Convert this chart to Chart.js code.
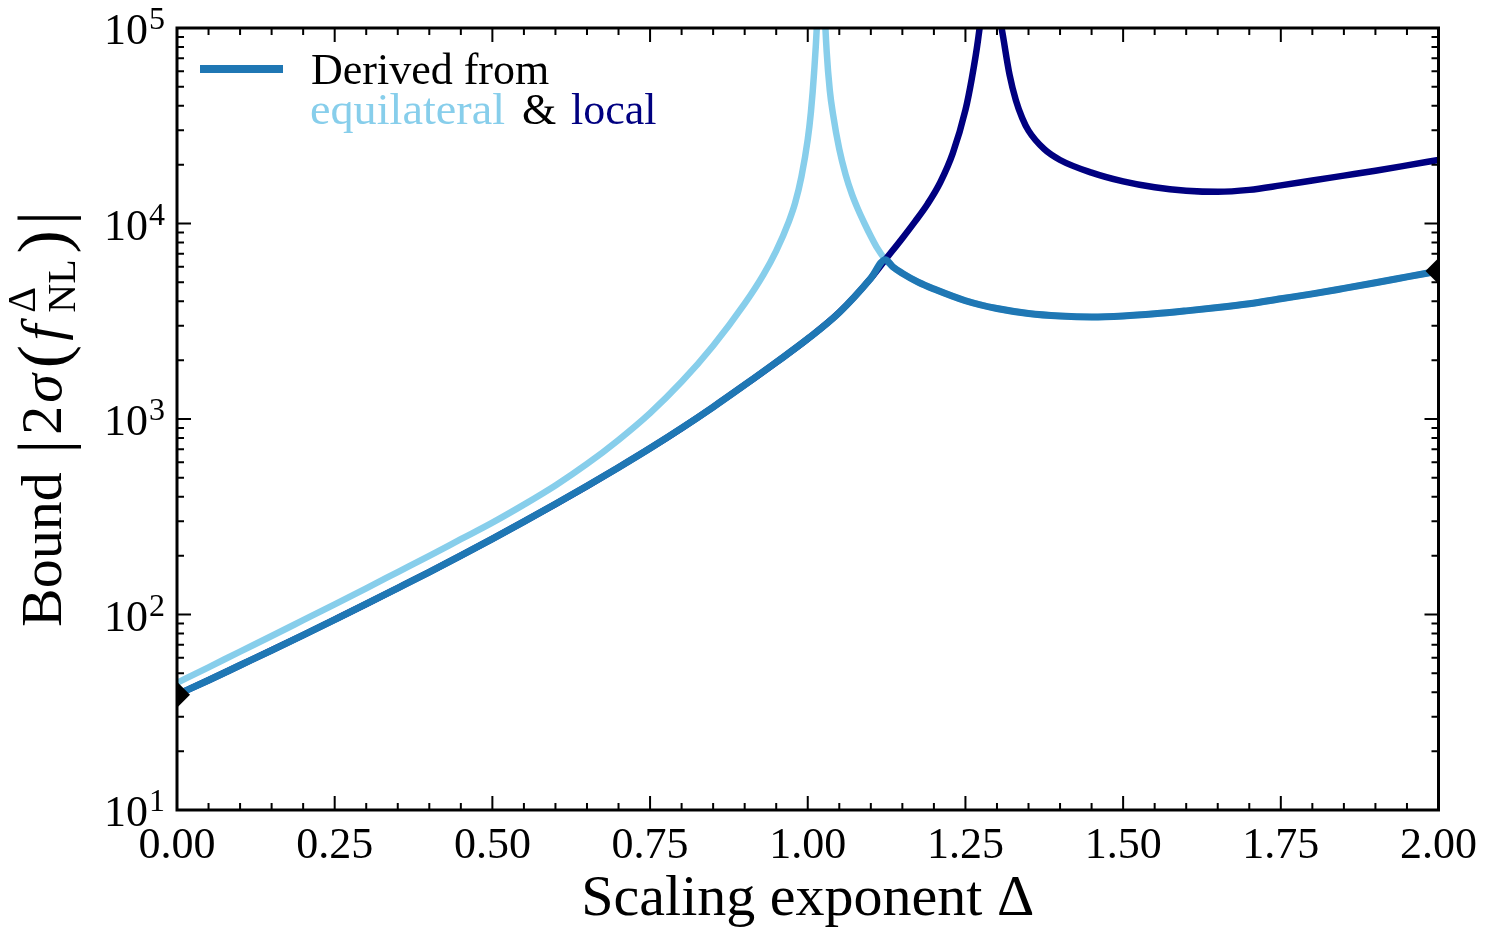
<!DOCTYPE html>
<html>
<head>
<meta charset="utf-8">
<script src="https://cdn.jsdelivr.net/npm/chart.js@4.4.0/dist/chart.umd.min.js"></script>
<style>
html,body{margin:0;padding:0;background:#fff;}
#wrap{width:1487px;height:930px;}
</style>
</head>
<body>
<div id="wrap"><canvas id="c" width="1487" height="930"></canvas></div>
<script>
// ---------------- data ----------------
// Equilateral-derived bound (light blue); null marks the pole gap
const eqX = [0,0.05,0.10,0.15,0.20,0.25,0.30,0.35,0.40,0.45,0.50,0.55,0.60,0.65,0.70,0.75,0.80,0.85,0.90,0.93,0.95,0.97,0.98,0.99,1.00,1.005,1.01,1.015,1.019,1.021,1.023,1.026,1.03,1.035,1.04,1.05,1.06,1.07,1.08,1.09,1.10,1.11,1.123,1.135,1.15,1.175,1.20,1.25,1.30,1.35,1.40,1.45,1.50,1.55,1.60,1.65,1.70,1.75,1.80,1.85,1.90,1.95,2.00];
const eqY = [44.7,53.7,64.6,77.6,93.5,112.7,136.1,164.8,199.5,242.7,295.1,364.8,457.1,588.8,781.6,1072,1549,2371,3890,5495,7244,10230,12740,17380,26920,37150,58880,112200,281800,null,281800,141300,75860,47860,36310,23990,17780,14130,11750,10000,8610,7499,6531,5998,5559,5012,4624,4027,3673,3467,3365,3327,3365,3451,3573,3715,3890,4121,4365,4656,4977,5333,5715];

// Local-derived bound (navy)
const locX = [0,0.05,0.10,0.15,0.20,0.25,0.30,0.35,0.40,0.45,0.50,0.55,0.60,0.65,0.70,0.75,0.80,0.85,0.90,0.95,1.00,1.05,1.10,1.123,1.15,1.17,1.19,1.21,1.23,1.25,1.26,1.27,1.28,1.285,1.29,1.295,1.30,1.305,1.31,1.32,1.33,1.34,1.35,1.375,1.40,1.45,1.50,1.55,1.60,1.65,1.70,1.75,1.80,1.85,1.90,1.95,2.00];
const locY = [38.9,46.1,55.0,65.6,78.5,94.2,113.2,136.5,164.8,200.0,243.8,298.5,367.3,453.9,564.9,707.9,897.4,1151,1493,1950,2570,3508,5248,6531,8414,10230,12590,16220,22910,38020,54950,87100,166000,281800,null,281800,158500,112200,89130,57540,42660,34670,29850,23990,21130,18200,16410,15310,14720,14520,14860,15670,16600,17580,18620,19820,21130];

// Combined bound "Derived from equilateral & local" (mid blue)
const combX = [0,0.05,0.10,0.15,0.20,0.25,0.30,0.35,0.40,0.45,0.50,0.55,0.60,0.65,0.70,0.75,0.80,0.85,0.90,0.95,1.00,1.05,1.10,1.123,1.135,1.15,1.175,1.20,1.25,1.30,1.35,1.40,1.45,1.50,1.55,1.60,1.65,1.70,1.75,1.80,1.85,1.90,1.95,2.00];
const combY = [38.9,46.1,55.0,65.6,78.5,94.2,113.2,136.5,164.8,200.0,243.8,298.5,367.3,453.9,564.9,707.9,897.4,1151,1493,1950,2570,3508,5248,6531,5998,5559,5012,4624,4027,3673,3467,3365,3327,3365,3451,3573,3715,3890,4121,4365,4656,4977,5333,5715];

// Endpoint diamond markers
const markerX = [0, 2];
const markerY = [38.9, 5715];

// Tick labels
const xTickVals = [0,0.25,0.5,0.75,1.0,1.25,1.5,1.75,2.0];
const xTickLabels = ['0.00','0.25','0.50','0.75','1.00','1.25','1.50','1.75','2.00'];
const yTickVals = [1e1,1e2,1e3,1e4,1e5];
const yTickExps = ['1','2','3','4','5'];

const legendLine1 = 'Derived from';
const legendParts = [['equilateral','#87CEEB',310],['&','#000000',522],['local','#000080',571]];

// ---------------- styling ----------------
const SERIF = '"Liberation Serif", "DejaVu Serif", serif';
const C_EQ = '#87CEEB', C_LOC = '#000080', C_COMB = '#1f77b4';

const pts = (xs, ys) => xs.map((x, i) => ({x, y: ys[i]}));

const framePlugin = {
  id: 'framePlugin',
  afterDatasetsDraw(chart) {
    const {ctx, chartArea: a, scales: {x, y}} = chart;
    ctx.save();
    ctx.strokeStyle = '#000';
    ctx.lineCap = 'butt';
    ctx.lineWidth = 2;
    ctx.beginPath();
    for (let i = 0; i <= 40; i++) {
      const v = i * 0.05;
      const px = x.getPixelForValue(v);
      const len = (i % 5 === 0) ? 14 : 7;
      ctx.moveTo(px, a.bottom); ctx.lineTo(px, a.bottom - len);
      ctx.moveTo(px, a.top); ctx.lineTo(px, a.top + len);
    }
    for (let e = 1; e <= 5; e++) {
      for (let k = 1; k <= 9; k++) {
        const v = k * Math.pow(10, e);
        if (v > 1e5 + 1) break;
        const py = y.getPixelForValue(v);
        const len = (k === 1) ? 14 : 7;
        ctx.moveTo(a.left, py); ctx.lineTo(a.left + len, py);
        ctx.moveTo(a.right, py); ctx.lineTo(a.right - len, py);
      }
    }
    ctx.stroke();
    ctx.lineWidth = 3;
    ctx.strokeRect(a.left, a.top, a.right - a.left, a.bottom - a.top);
    ctx.restore();
  },
  afterDraw(chart) {
    const {ctx, chartArea: a, scales: {y}} = chart;
    ctx.save();
    ctx.fillStyle = '#000';
    ctx.textBaseline = 'alphabetic';
    // y tick labels 10^n
    yTickVals.forEach((v, i) => {
      const py = y.getPixelForValue(v);
      ctx.font = '44px ' + SERIF;
      const w10 = ctx.measureText('10').width;
      ctx.font = '32px ' + SERIF;
      const we = ctx.measureText(yTickExps[i]).width;
      const right = 165;
      ctx.fillText(yTickExps[i], right - we, py + 1);
      ctx.font = '44px ' + SERIF;
      ctx.fillText('10', right - we - w10 - 1, py + 16);
    });

    // y axis title: Bound |2σ(f^Δ_NL)|
    const big = '58px ' + SERIF, bigI = 'italic 58px ' + SERIF, delim = '70px ' + SERIF, small = '40px ' + SERIF;
    const segs = [
      {t: 'Bound ', f: big, gap: 4},
      {t: '|', f: delim, dy: 5, gap: 5},
      {t: '2', f: big, gap: 3},
      {t: 'σ', f: bigI, gap: 6},
      {t: '(', f: delim, dy: 5, gap: 4},
      {t: 'f', f: bigI, gap: 12},
      {script: true, gap: 6},
      {t: ')', f: delim, dy: 5, gap: 5},
      {t: '|', f: delim, dy: 5, gap: 0}
    ];
    ctx.font = small;
    const wScript = Math.max(ctx.measureText('Δ').width, ctx.measureText('NL').width);
    let total = 0;
    segs.forEach(s => {
      if (s.script) { s.w = wScript; }
      else { ctx.font = s.f; s.w = ctx.measureText(s.t).width; }
      total += s.w + s.gap;
    });
    ctx.translate(61, (a.top + a.bottom) / 2);
    ctx.rotate(-Math.PI / 2);
    let cx = -total / 2;
    segs.forEach(s => {
      if (s.script) {
        ctx.font = small;
        ctx.fillText('Δ', cx, -26);
        ctx.fillText('NL', cx, 14);
      } else {
        ctx.font = s.f;
        ctx.fillText(s.t, cx, s.dy || 0);
      }
      cx += s.w + s.gap;
    });
    ctx.setTransform(1, 0, 0, 1, 0, 0);

    // legend
    ctx.strokeStyle = C_COMB;
    ctx.lineWidth = 8;
    ctx.beginPath();
    ctx.moveTo(200, 69); ctx.lineTo(283, 69);
    ctx.stroke();
    ctx.font = '44px ' + SERIF;
    ctx.fillStyle = '#000';
    ctx.fillText(legendLine1, 311, 84);
    legendParts.forEach(([t, c, px]) => {
      ctx.fillStyle = c;
      if (t === 'equilateral') {
        const w = ctx.measureText(t).width;
        ctx.save();
        ctx.translate(px, 124);
        ctx.scale(195 / w, 1);
        ctx.fillText(t, 0, 0);
        ctx.restore();
      } else {
        ctx.fillText(t, px, 124);
      }
    });
    ctx.restore();
  }
};

function build() {
  new Chart(document.getElementById('c'), {
    type: 'line',
    data: {
      datasets: [
        {label: 'markers', type: 'scatter', data: pts(markerX, markerY), pointStyle: 'rectRot',
         pointRadius: 13, pointHoverRadius: 13, backgroundColor: '#000', borderColor: '#000', borderWidth: 0,
         showLine: false, order: 0, clip: 0},
        {label: 'Derived from equilateral & local', data: pts(combX, combY), borderColor: C_COMB,
         borderWidth: 7, pointRadius: 0, cubicInterpolationMode: 'monotone', spanGaps: false, order: 1, clip: 0},
        {label: 'local', data: pts(locX, locY), borderColor: C_LOC,
         borderWidth: 6.5, pointRadius: 0, cubicInterpolationMode: 'monotone', spanGaps: false, order: 2, clip: 0},
        {label: 'equilateral', data: pts(eqX, eqY), borderColor: C_EQ,
         borderWidth: 6.5, pointRadius: 0, cubicInterpolationMode: 'monotone', spanGaps: false, order: 3, clip: 0}
      ]
    },
    options: {
      responsive: false,
      animation: false,
      devicePixelRatio: 1,
      layout: {padding: {top: 28, right: 46, left: 0, bottom: 0}},
      plugins: {legend: {display: false}, tooltip: {enabled: false}},
      scales: {
        x: {
          type: 'linear', min: 0, max: 2,
          afterBuildTicks: s => { s.ticks = xTickVals.map(v => ({value: v})); },
          afterFit: s => { s.height = 120; },
          grid: {display: false, drawTicks: false},
          border: {display: false},
          ticks: {
            callback: (v) => xTickLabels[xTickVals.indexOf(v)],
            font: {family: SERIF, size: 44}, color: '#000', padding: 10,
            maxRotation: 0, autoSkip: false
          },
          title: {display: true, text: 'Scaling exponent Δ', color: '#000',
                  font: {family: SERIF, size: 58}, padding: {top: 0, bottom: -5}}
        },
        y: {
          type: 'logarithmic', min: 10, max: 1e5,
          afterFit: s => { s.width = 177; },
          grid: {display: false, drawTicks: false},
          border: {display: false},
          ticks: {display: false}
        }
      }
    },
    plugins: [framePlugin]
  });
}

if (document.fonts && document.fonts.load) {
  Promise.all([
    document.fonts.load('44px "Liberation Serif"'),
    document.fonts.load('italic 58px "Liberation Serif"')
  ]).then(build, build);
} else { build(); }
</script>
</body>
</html>
